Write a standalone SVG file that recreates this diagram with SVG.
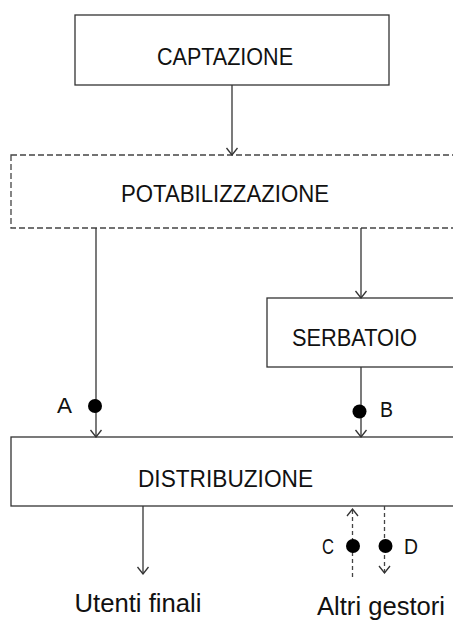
<svg xmlns="http://www.w3.org/2000/svg" width="453" height="623" viewBox="0 0 453 623">
<style>
.box{fill:#fff;stroke:#333;stroke-width:1.3}
.dbox{fill:#fff;stroke:#444;stroke-width:1.3;stroke-dasharray:6 3}
.t{font-family:"Liberation Sans",Arial,sans-serif;font-size:23px;fill:#111;text-anchor:middle}
.lbl{font-family:"Liberation Sans",Arial,sans-serif;font-size:22px;fill:#111}
.out{font-family:"Liberation Sans",Arial,sans-serif;font-size:26px;fill:#111;text-anchor:middle}
.ln{fill:none;stroke:#333;stroke-width:1.3;marker-end:url(#ah)}
.dl{fill:none;stroke:#444;stroke-width:1.3;stroke-dasharray:4 3}
.dot{fill:#000}
</style>
<defs>
<marker id="ah" viewBox="-9 -7 10 14" refX="0" refY="0" markerWidth="10" markerHeight="14" markerUnits="userSpaceOnUse" orient="auto">
<path d="M-7,-5.5 L0,0 L-7,5.5" fill="none" stroke="#333" stroke-width="1.3"/>
</marker>
</defs>
<g id="captazione"><rect class="box" x="75" y="15" width="314" height="70"/><text class="t" x="225" y="65" textLength="136" lengthAdjust="spacingAndGlyphs">CAPTAZIONE</text></g>
<g id="potabilizzazione"><rect class="dbox" x="11" y="155" width="470" height="73"/><text class="t" x="225" y="202" textLength="208" lengthAdjust="spacingAndGlyphs">POTABILIZZAZIONE</text></g>
<g id="serbatoio"><rect class="box" x="267" y="298" width="220" height="69"/><text class="t" x="354.5" y="346" textLength="125" lengthAdjust="spacingAndGlyphs">SERBATOIO</text></g>
<g id="distribuzione"><rect class="box" x="11" y="437" width="470" height="69"/><text class="t" x="225.5" y="487" textLength="175" lengthAdjust="spacingAndGlyphs">DISTRIBUZIONE</text></g>
<g id="utenti"><text class="out" x="138" y="612" textLength="127" lengthAdjust="spacingAndGlyphs">Utenti finali</text></g>
<g id="gestori"><text class="out" x="381" y="615" textLength="128" lengthAdjust="spacingAndGlyphs">Altri gestori</text></g>
<g id="connectors">
<path class="ln" d="M232,85 V155"/>
<path class="ln" d="M96,228 V437"/>
<path class="ln" d="M361,228 V298"/>
<path class="ln" d="M361,367 V437"/>
<path class="ln" d="M143,506 V574"/>
<path class="dl" d="M352.5,577 V509" style="marker-end:url(#ah)"/>
<path class="dl" d="M384.5,506 V573" style="marker-end:url(#ah)"/>
<circle class="dot" cx="95" cy="406" r="7"/>
<circle class="dot" cx="359.5" cy="411.5" r="7"/>
<circle class="dot" cx="353" cy="546" r="7"/>
<circle class="dot" cx="385.5" cy="546" r="7"/>
<text class="lbl" x="57" y="413" textLength="15" lengthAdjust="spacingAndGlyphs">A</text>
<text class="lbl" x="380" y="417" textLength="13" lengthAdjust="spacingAndGlyphs">B</text>
<text class="lbl" x="322" y="554" textLength="12" lengthAdjust="spacingAndGlyphs">C</text>
<text class="lbl" x="404" y="554" textLength="14" lengthAdjust="spacingAndGlyphs">D</text>
</g>
</svg>
